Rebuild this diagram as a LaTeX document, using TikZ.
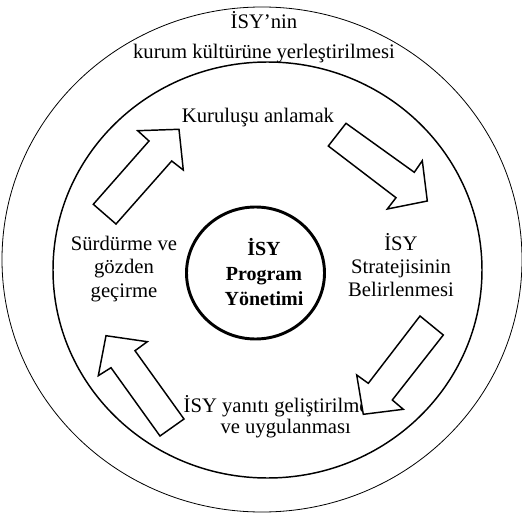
\documentclass[tikz,border=0pt]{standalone}
\usepackage{fontspec}
\setmainfont{Liberation Serif}
\usepackage{tikz}
\usetikzlibrary{positioning}

\begin{document}
\begin{tikzpicture}[
      x=0.75pt, y=-0.75pt,
      label/.style={align=center, inner sep=0pt, font=\fontsize{15.5}{17.5}\selectfont},
      core/.style={align=center, inner sep=0pt, font=\fontsize{15}{19}\selectfont\bfseries},
      blockarrow/.style={draw, fill=white, line width=1.1pt, line join=miter}
    ]
      \useasboundingbox (0,0) rectangle (522,514);

      % rings
      \draw[line width=0.6pt] (262,259.5) ellipse [x radius=260, y radius=252.5];
      \draw[line width=1.1pt] (267.5,270) ellipse [x radius=214.5, y radius=208];
      \draw[line width=2.2pt] (255.5,273) ellipse [x radius=69, y radius=66];

      % texts
      \node[label] (culture) at (264,37.5) {İSY’nin\\[5pt]kurum kültürüne yerleştirilmesi};
      \node[label] (understand) at (258,118) {Kuruluşu anlamak};
      \node[label] (strategy) at (401,265) {İSY\\Stratejisinin\\Belirlenmesi};
      \node[label] (response) at (283,417) {İSY yanıtı geliştirilmesi\\[-2pt]\hspace*{4pt}ve uygulanması};
      \node[label] (review) at (124,269) {Sürdürme ve\\gözden\\geçirme};
      \node[core] (program) at (264,272) {İSY\\Program\\Yönetimi};

      % block arrows
      \draw[blockarrow] (93.3,204.3) -- (149,141) -- (137.7,130.7) -- (179,129.3)
        -- (183.3,170) -- (171.7,161) -- (116,224) -- cycle;
      \draw[blockarrow] (346,123.3) -- (414.3,172.3) -- (422.3,160.7) -- (427.3,201)
        -- (387.3,209) -- (396,197.7) -- (328.3,146) -- cycle;
      \draw[blockarrow] (443.3,335) -- (392.3,400) -- (403.3,409.3) -- (363.3,414.3)
        -- (356.7,375) -- (368.3,383.3) -- (420,316) -- cycle;
      \draw[blockarrow] (160,436) -- (111,367.7) -- (98.3,375.7) -- (106,335.7)
        -- (147.3,341.7) -- (135,350.7) -- (184,419) -- cycle;
    \end{tikzpicture}
\end{document}
